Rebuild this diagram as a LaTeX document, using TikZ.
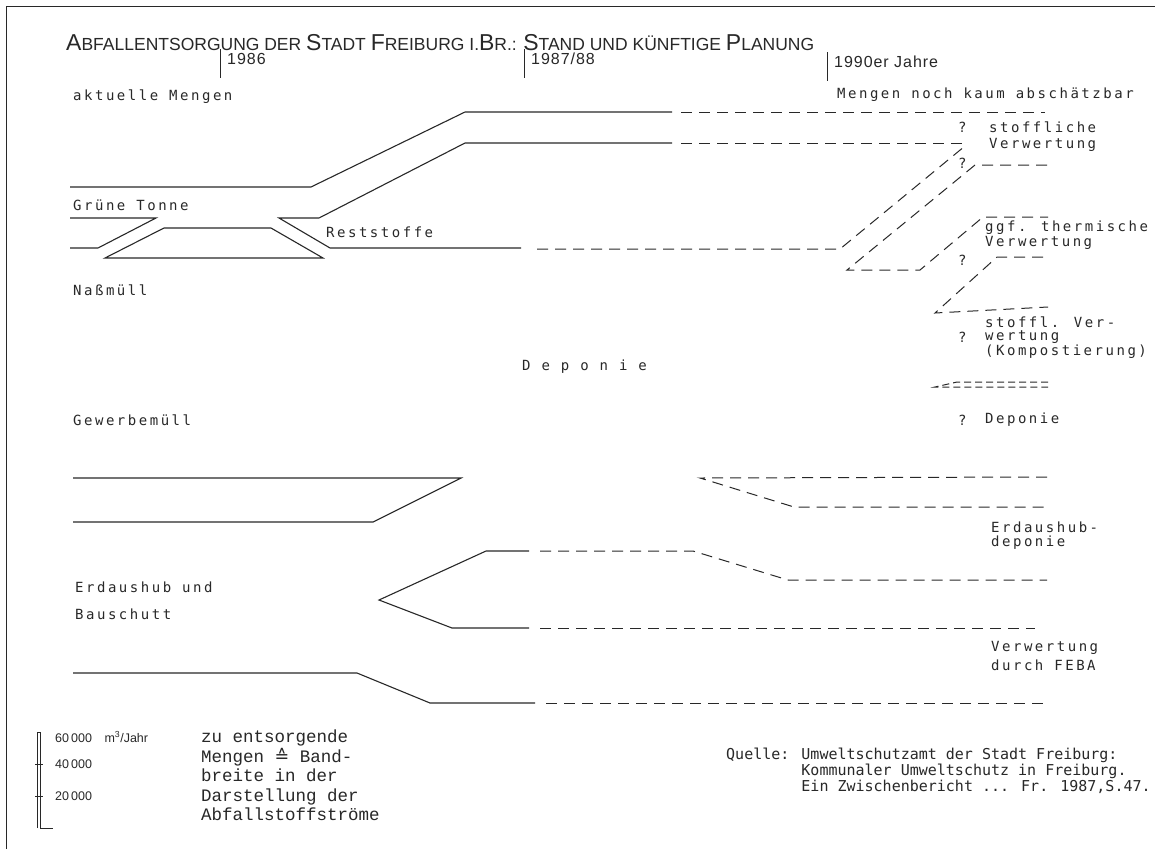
\documentclass[tikz,border=0pt]{standalone}
\usepackage{fontspec}
\usepackage{tikz}
\usetikzlibrary{calc,positioning}
\setmainfont{Liberation Sans}
\newfontfamily\labfont[LetterSpace=18]{DejaVu Sans Mono}
\newfontfamily\yearfont[LetterSpace=6]{Liberation Sans}
\newfontfamily\monofont{DejaVu Sans Mono}
\newfontfamily\typefont{Liberation Mono}
\newfontfamily\symfont{DejaVu Sans}
\definecolor{FlowInk}{RGB}{40,40,40}
\definecolor{FlowPaper}{RGB}{255,255,255}
\newcommand\titlesc[2]{{\fontsize{23}{23}\selectfont#1}{\fontsize{17.5}{17.5}\selectfont#2}}

\begin{document}
\begin{tikzpicture}[x=1pt,y=-1pt,
  band/.style={draw=FlowInk,line width=1.1pt},
  plan/.style={band,line width=1pt,dash pattern=on 11pt off 7pt},
  tight/.style={band,line width=1pt,dash pattern=on 7pt off 4pt},
  lab/.style={font=\labfont\fontsize{14}{16}\selectfont,text=FlowInk,anchor=west,inner sep=0pt},
  year/.style={font=\yearfont\fontsize{16}{18}\selectfont,text=FlowInk,anchor=west,inner sep=0pt},
  scalelab/.style={font=\fontsize{12.5}{14}\selectfont,text=FlowInk,anchor=west,inner sep=0pt}]
  \useasboundingbox[fill=FlowPaper] (0,0) rectangle (1155,849);
  \draw[FlowInk,line width=1pt] (6,849) -- (6,6) -- (1155,6);
  \node[anchor=base west,inner sep=0pt,text=FlowInk] (titel) at (66,50)
    {\titlesc{A}{BFALLENTSORGUNG DER }\titlesc{S}{TADT }\titlesc{F}{REIBURG I.}\titlesc{B}{R.: }\titlesc{S}{TAND UND KÜNFTIGE }\titlesc{P}{LANUNG}};
  \foreach \nm/\x/\y/\yr in {j86/220/59/1986, j87/524/59/{1987/88}, j90/827/62/{1990er Jahre}} {
    \draw[FlowInk,line width=1pt] (\x,\y-10) -- (\x,\y+19);
    \node[year] (\nm) at (\x+7,\y) {\yr};
  }

  \draw[band] (70,187) -- (311,187) -- (465,112) -- (672,112);
  \draw[plan] (681,112) -- (1045,112);
  \draw[band] (70,218) -- (156,218) -- (98,248) -- (70,248);
  \draw[band] (164,228) -- (271,228) -- (323,258) -- (105,258) -- cycle;
  \draw[band] (672,143) -- (465,143) -- (319,218) -- (279,218) -- (330,248) -- (521,248);
  \draw[plan] (681,143) -- (968,143);
  \draw[plan] (537,249) -- (840,249) -- (965,146);
  \draw[plan] (1047,165) -- (975,165) -- (847,270) -- (920,270) -- (983,217) -- (1048,217);
  \draw[plan] (1043,257) -- (997,257) -- (935,313) -- (1048,307);
  \draw[tight] (1048,382) -- (957,382) -- (935,387) -- (1048,387);

  \draw[band] (73,478) -- (461,478) -- (373,522) -- (73,522);
  \draw[plan] (1047,477) -- (700,478) -- (794,507) -- (1047,507);
  \draw[band] (529,551) -- (486,551) -- (379,600) -- (452,628) -- (529,628);
  \draw[plan] (540,551) -- (693,551) -- (788,580) -- (1047,580);
  \draw[plan] (540,628) -- (1035,628);
  \draw[band] (73,673) -- (357,673) -- (430,703) -- (535,703);
  \draw[plan] (546,703) -- (1043,703);

  \foreach \nm/\x/\y/\txt in {aktuell/73/97/{aktuelle Mengen}, gruen/73/205/{Grüne Tonne},
    rest/326/232/Reststoffe, nass/73/290/Naßmüll, deponie/522/367/{D e p o n i e},
    gewerbe/73/420/Gewerbemüll, erd/75/587/{Erdaushub und}, bau/75/614/Bauschutt}
    \node[lab] (\nm) at (\x,\y) {\txt};
  \foreach \nm/\x/\y/\txt in {mengen/837/95/{Mengen noch kaum abschätzbar},
    stoff/989/127/stoffliche, stoffv/989/145/Verwertung,
    therm/985/228/{ggf. thermische}, thermv/985/243/Verwertung,
    komp/985/322/{stoffl. Ver-}, kompw/985/337/wertung, kompk/985/352/(Kompostierung),
    dep/985/420/Deponie, erdd/991/527/Erdaushub-, erddp/991/543/deponie,
    feba/991/648/Verwertung, febad/991/665/{durch FEBA}}
    \node[lab] (\nm) at (\x,\y) {\txt};
  \foreach \nm/\y in {qa/127, qb/163, qc/260, qd/337, qe/420}
    \node[lab] (\nm) at (958,\y) {?};

  \draw[FlowInk,line width=0.8pt] (37,828) -- (37,732) -- (40,732) -- (40,828) -- (53,828);
  \foreach \y in {764,796}
    \draw[FlowInk,line width=0.8pt] (35,\y) -- (43,\y);
  \node[scalelab] (s60) at (55,737) {60\,000\quad m\textsuperscript{3}/Jahr};
  \node[scalelab] (s40) at (55,764) {40\,000};
  \node[scalelab] (s20) at (55,796) {20\,000};
  \node[font=\typefont\fontsize{17.5}{19.5}\selectfont,text=FlowInk,anchor=north west,inner sep=0pt,align=left] (legende) at (201,730)
    {zu entsorgende\\Mengen {\symfont ≙} Band-\\breite in der\\Darstellung der\\Abfallstoffströme};
  \node[font=\monofont\fontsize{15}{14.5}\selectfont,text=FlowInk,anchor=north west,inner sep=0pt,align=left] (quelle) at (726,748)
    {Quelle: Umweltschutzamt der Stadt Freiburg:\\\hphantom{Quelle: }Kommunaler Umweltschutz in Freiburg.\\\hphantom{Quelle: }Ein Zwischenbericht ... Fr. 1987,S.47.};
\end{tikzpicture}
\end{document}
